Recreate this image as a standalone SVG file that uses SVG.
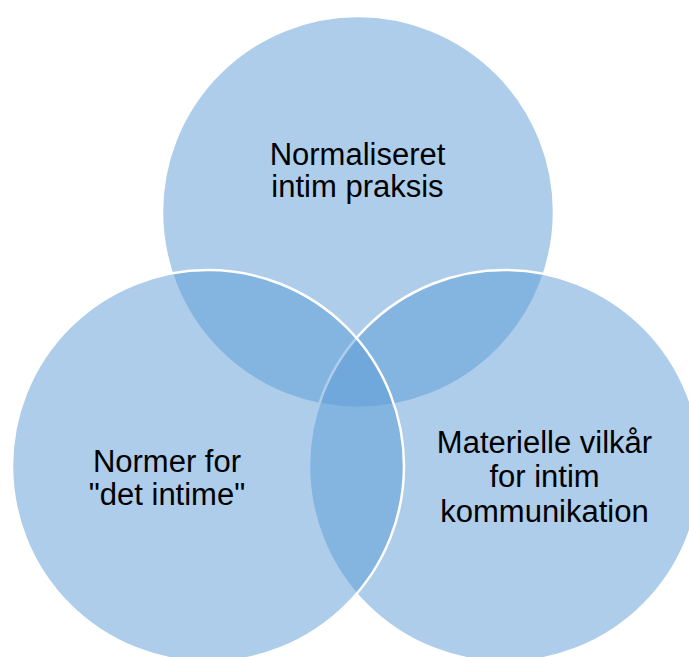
<svg xmlns="http://www.w3.org/2000/svg" width="689" height="657" viewBox="0 0 689 657">
<style>
.c{fill:#5b9bd5;fill-opacity:0.5;stroke:#ffffff;stroke-width:2.5}
.t{font-family:"Liberation Sans",Arial,sans-serif;font-size:31px;fill:#000000;text-anchor:middle}
</style>
<rect width="689" height="657" fill="#ffffff"/>
<g id="node-top">
<circle class="c" cx="358" cy="212" r="196"/>
</g>
<g id="node-right">
<circle class="c" cx="505" cy="466" r="196"/>
</g>
<g id="node-left">
<circle class="c" cx="208" cy="466" r="196"/>
</g>
<g id="labels">
<text class="t" x="357.5" y="165">Normaliseret</text>
<text class="t" x="357.5" y="197">intim praksis</text>
<text class="t" x="167" y="472">Normer for</text>
<text class="t" x="167" y="505">"det intime"</text>
<text class="t" x="544.5" y="453">Materielle vilkår</text>
<text class="t" x="544.5" y="487">for intim</text>
<text class="t" x="544.5" y="522">kommunikation</text>
</g>
<g id="connectors"></g>
</svg>
